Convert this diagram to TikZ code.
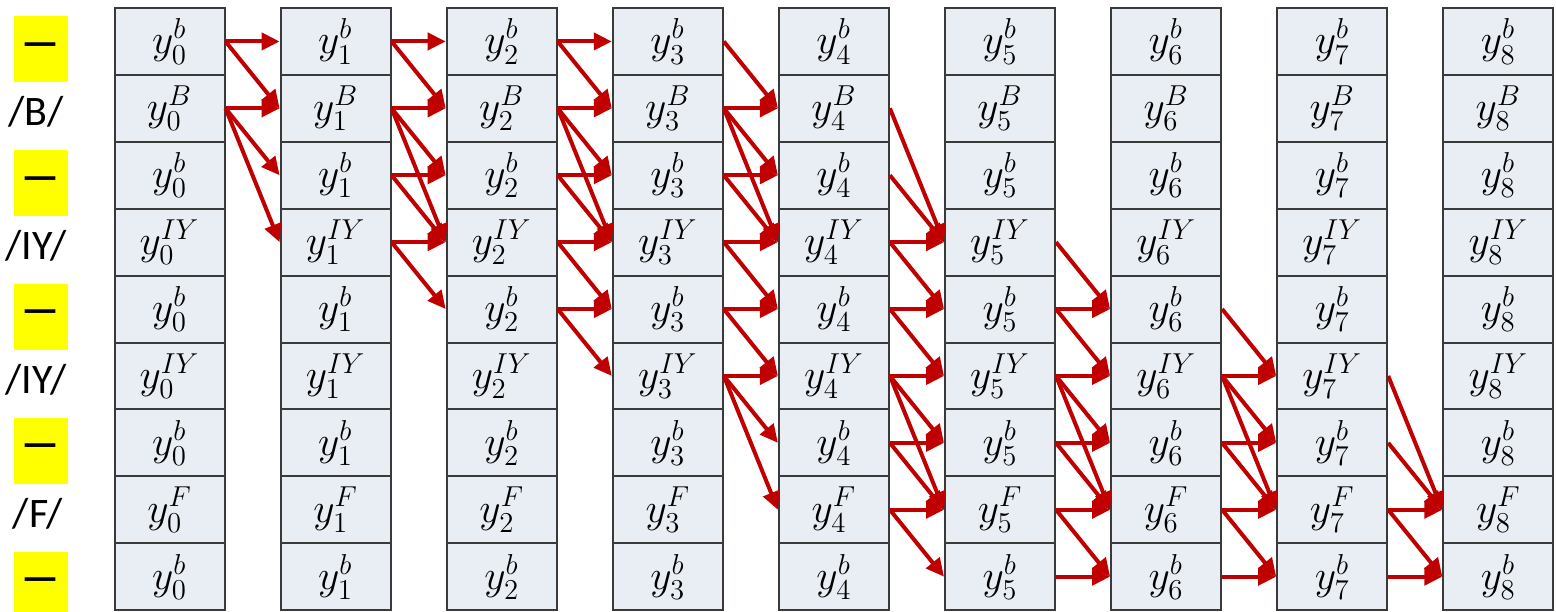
\documentclass[tikz,border=0pt]{standalone}
\usepackage{amsmath}
\usepackage{fontspec}
\newfontfamily\lblfont{Carlito}
\usepackage{xcolor}
\definecolor{ctcbg}{HTML}{E9EDF4}
\definecolor{ctcedge}{HTML}{3A3A3A}
\definecolor{ctcred}{HTML}{C00000}
\definecolor{ctcyel}{HTML}{FFFF00}
\usepackage{tikz}
\usetikzlibrary{arrows.meta,positioning}
\tikzset{
  ctcbox/.style={draw=ctcedge,line width=1pt,fill=ctcbg,minimum width=55pt,minimum height=33.45pt,inner sep=0pt,font=\huge},
  ctcflow/.style={-{Triangle[length=9pt,width=8.5pt]},line width=2pt,draw=ctcred},
  ctcblank/.style={fill=ctcyel,minimum width=27pt,minimum height=33pt,inner sep=0pt,font=\lblfont\fontsize{21}{24}\selectfont\bfseries},
  ctclabel/.style={inner sep=0pt,font=\lblfont\fontsize{21}{24}\selectfont},
}

\begin{document}
\begin{tikzpicture}[x=1pt,y=1pt]
\useasboundingbox (0,0) rectangle (778,-305.5);
% trellis cells
\foreach \j/\s in {0/b,1/B,2/b,3/IY,4/b,5/IY,6/b,7/F,8/b}{
  \foreach \i in {0,...,8}
    \node[ctcbox] (n\i-\j) at ({84.75+83.05*\i},{-4-33.45*(\j+0.5)}) {$y^{\s}_{\i}$};
}
% row labels
\foreach \j in {0,2,4,6,8}
  \node[ctcblank] (l\j) at (20.5,{-8-33.45*(\j+0.5)}) {\symbol{"2014}};
\node[ctclabel] (l1) at (18,-56) {/B/};
\node[ctclabel] (l3) at (18,-123) {/IY/};
\node[ctclabel] (l5) at (18,-190) {/IY/};
\node[ctclabel] (l7) at (19,-257) {/F/};
% transitions
\foreach \s/\t in {0/0,0/1,1/1,1/2,1/3} \draw[ctcflow] (n0-\s.east) -- (n1-\t.west);
\foreach \s/\t in {0/0,0/1,1/1,1/2,1/3,2/2,2/3,3/3,3/4} \draw[ctcflow] (n1-\s.east) -- (n2-\t.west);
\foreach \s/\t in {0/0,0/1,1/1,1/2,1/3,2/2,2/3,3/3,3/4,4/4,4/5} \draw[ctcflow] (n2-\s.east) -- (n3-\t.west);
\foreach \s/\t in {0/1,1/1,1/2,1/3,2/2,2/3,3/3,3/4,4/4,4/5,5/5,5/6,5/7} \draw[ctcflow] (n3-\s.east) -- (n4-\t.west);
\foreach \s/\t in {1/3,2/3,3/3,3/4,4/4,4/5,5/5,5/6,5/7,6/6,6/7,7/7,7/8} \draw[ctcflow] (n4-\s.east) -- (n5-\t.west);
\foreach \s/\t in {3/4,4/4,4/5,5/5,5/6,5/7,6/6,6/7,7/7,7/8,8/8} \draw[ctcflow] (n5-\s.east) -- (n6-\t.west);
\foreach \s/\t in {4/5,5/5,5/6,5/7,6/6,6/7,7/7,7/8,8/8} \draw[ctcflow] (n6-\s.east) -- (n7-\t.west);
\foreach \s/\t in {5/7,6/7,7/7,7/8,8/8} \draw[ctcflow] (n7-\s.east) -- (n8-\t.west);
\end{tikzpicture}
\end{document}
